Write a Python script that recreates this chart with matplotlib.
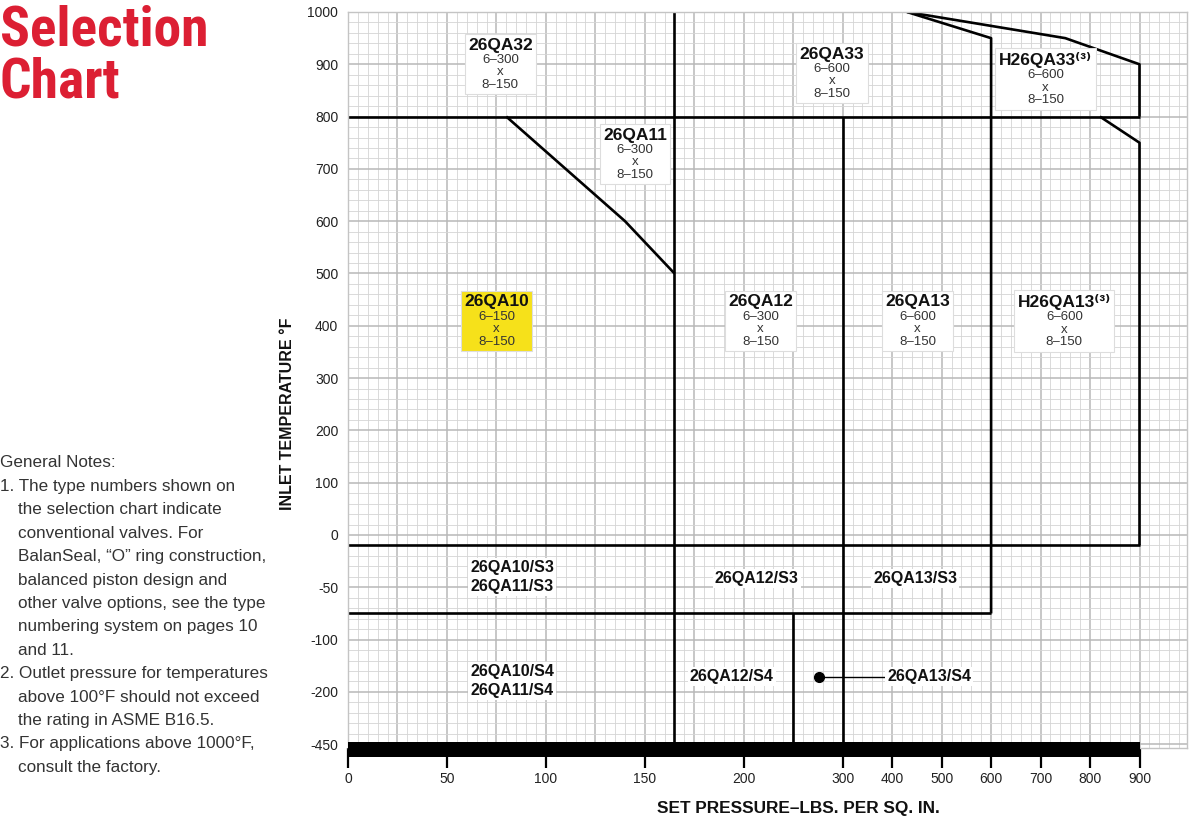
import numpy as np
import matplotlib
matplotlib.use("Agg")
from matplotlib import pyplot as plt
from matplotlib import font_manager as ftm
from matplotlib.offsetbox import TextArea, VPacker, AnnotationBbox
from matplotlib.patches import Rectangle

# ---------------- data ----------------
# axis ticks (piecewise scales)
xticks = [0, 50, 100, 150, 200, 300, 400, 500, 600, 700, 800, 900]
yticks = [1000, 900, 800, 700, 600, 500, 400, 300, 200, 100, 0, -50, -100, -200, -450]

# piecewise scale knots: real value -> position
x_knots = [0, 200, 300, 900]
x_pos = [0, 200, 250, 400]
y_knots = [-450, -200, -100, -50, 0, 1000]
y_pos = [0, 1, 2, 3, 4, 14]

# boundary lines of the selection chart (set pressure, inlet temperature)
boundaries = [
    ([0, 900], [800, 800]),
    ([0, 900], [-10, -10]),
    ([0, 600], [-75, -75]),
    ([165, 165], [1000, -450]),
    ([300, 300], [800, -450]),
    ([250, 250], [-75, -450]),
    ([600, 600, 430], [-75, 950, 1000]),
    ([430, 750, 900, 900], [1000, 950, 900, 800]),
    ([820, 900, 900], [800, 750, -10]),
    ([80, 140, 165], [800, 600, 500]),
]

# model boxes: name, sizes, x, y
box_names = ["26QA32", "26QA11", "26QA33", "H26QA33\u207d\u00b3\u207e",
             "26QA10", "26QA12", "26QA13", "H26QA13\u207d\u00b3\u207e"]
box_sizes = ["6\u2013300\nx\n8\u2013150", "6\u2013300\nx\n8\u2013150",
             "6\u2013600\nx\n8\u2013150", "6\u2013600\nx\n8\u2013150",
             "6\u2013150\nx\n8\u2013150", "6\u2013300\nx\n8\u2013150",
             "6\u2013600\nx\n8\u2013150", "6\u2013600\nx\n8\u2013150"]
box_x = [77, 145, 289, 710, 75, 217, 451, 748]
box_y = [900, 728, 883, 872, 409, 409, 409, 409]
box_colors = ["white", "white", "white", "white", "#f6e11a", "white", "white", "white"]

# low temperature labels
low_names = ["26QA10/S3\n26QA11/S3", "26QA12/S3", "26QA13/S3",
             "26QA10/S4\n26QA11/S4", "26QA12/S4"]
low_x = [83, 213, 447, 83, 194]
low_y = [-40, -42, -42, -179, -171]

# 26QA13/S4 pointer
s4_point = (276, -171)
s4_label_x = 390

notes = [
    (0, "General Notes:"),
    (0, "1. The type numbers shown on"),
    (1, "the selection chart indicate"),
    (1, "conventional valves. For"),
    (1, "BalanSeal, \u201cO\u201d ring construction,"),
    (1, "balanced piston design and"),
    (1, "other valve options, see the type"),
    (1, "numbering system on pages 10"),
    (1, "and 11."),
    (0, "2. Outlet pressure for temperatures"),
    (1, "above 100\u00b0F should not exceed"),
    (1, "the rating in ASME B16.5."),
    (0, "3. For applications above 1000\u00b0F,"),
    (1, "consult the factory."),
]


# ---------------- scales ----------------
def fwd_x(v):
    v = np.asarray(v, dtype=float)
    out = np.interp(v, x_knots, x_pos)
    out = np.where(v > 900, 400 + (v - 900) / 4.0, out)
    return np.where(v < 0, v, out)


def inv_x(t):
    t = np.asarray(t, dtype=float)
    out = np.interp(t, x_pos, x_knots)
    out = np.where(t > 400, 900 + (t - 400) * 4.0, out)
    return np.where(t < 0, t, out)


def fwd_y(v):
    v = np.asarray(v, dtype=float)
    out = np.interp(v, y_knots, y_pos)
    out = np.where(v > 1000, 14 + (v - 1000) / 100.0, out)
    return np.where(v < -450, (v + 450) / 250.0, out)


def inv_y(t):
    t = np.asarray(t, dtype=float)
    out = np.interp(t, y_pos, y_knots)
    out = np.where(t > 14, 1000 + (t - 14) * 100.0, out)
    return np.where(t < 0, -450 + t * 250.0, out)


fam = ["Liberation Sans", "DejaVu Sans"]
plt.rcParams["font.family"] = fam

# pick a condensed face for the big title if one is installed
installed = {f.name for f in ftm.fontManager.ttflist}
title_size = 40
title_fam = None
for cand in ["Liberation Sans Narrow", "Roboto Condensed", "DejaVu Sans Condensed"]:
    if cand in installed:
        title_fam = cand
        break
if title_fam is None or title_fam == "DejaVu Sans Condensed":
    title_fam = "Lato" if "Lato" in installed else "Liberation Sans"
    title_size = 36

fig = plt.figure(figsize=(12, 8.25), dpi=100)
ax = fig.add_axes([348 / 1200, 1 - 748 / 825, 839 / 1200, 736 / 825])
ax.set_xscale("function", functions=(fwd_x, inv_x))
ax.set_yscale("function", functions=(fwd_y, inv_y))
ax.set_xlim(0, float(inv_x(424)))
ax.set_ylim(float(inv_y(-0.073)), 1000)

# graph paper grid
for t in np.arange(0, 424.1, 5):
    major = abs(t / 25 - round(t / 25)) < 1e-6
    ax.axvline(float(inv_x(t)), color="#b8b8b8" if major else "#d4d4d4",
               lw=1.1 if major else 0.6, zorder=0)
for t in np.arange(0, 14.01, 0.2):
    major = abs(t - round(t)) < 1e-6
    ax.axhline(float(inv_y(t)), color="#b8b8b8" if major else "#d4d4d4",
               lw=1.1 if major else 0.6, zorder=0)

for xs, ys in boundaries:
    ax.plot(xs, ys, color="black", lw=1.9, solid_capstyle="butt", zorder=2)

# heavy bar at the bottom
ax.add_patch(Rectangle((0, float(inv_y(0.042))), 900,
                       float(inv_y(-0.245)) - float(inv_y(0.042)),
                       facecolor="black", edgecolor="none", clip_on=False, zorder=3))

# model boxes
for name, size, bx, by, fc in zip(box_names, box_sizes, box_x, box_y, box_colors):
    title = TextArea(name, textprops=dict(fontsize=12.5, fontweight="bold",
                                          color="#111111", family=fam))
    sub = TextArea(size, textprops=dict(fontsize=9.5, color="#333333", family=fam,
                                        multialignment="center", linespacing=1.05))
    pack = VPacker(children=[title, sub], align="center", pad=0, sep=1)
    ab = AnnotationBbox(pack, (bx, by), xycoords="data", frameon=True, pad=0.25,
                        box_alignment=(0.5, 0.5), zorder=4,
                        bboxprops=dict(facecolor=fc, edgecolor="#dddddd", lw=0.8))
    ax.add_artist(ab)

for name, lx, ly in zip(low_names, low_x, low_y):
    ax.text(lx, ly, name, ha="center", va="center", fontsize=11.5, fontweight="bold",
            color="#111111", linespacing=1.3, zorder=4,
            bbox=dict(facecolor="white", edgecolor="none", pad=1.5))

ax.plot([s4_point[0], s4_label_x - 3], [s4_point[1], s4_point[1]], color="black", lw=1.0, zorder=4)
ax.plot([s4_point[0]], [s4_point[1]], "o", color="black", ms=7, zorder=5)
ax.text(s4_label_x, s4_point[1], "26QA13/S4", ha="left", va="center", fontsize=11.5,
        fontweight="bold", color="#111111", zorder=4,
        bbox=dict(facecolor="white", edgecolor="none", pad=1.5))

# axes styling
ax.set_xticks(xticks)
ax.set_xticklabels([str(v) for v in xticks])
ax.set_yticks(yticks)
ax.set_yticklabels([str(v) for v in yticks])
ax.minorticks_off()
ax.tick_params(axis="x", direction="out", length=14.5, width=1.6, color="black",
               labelsize=10, labelcolor="#222222", pad=3)
ax.tick_params(axis="y", length=0, labelsize=10, labelcolor="#222222", pad=7)
for sp in ax.spines.values():
    sp.set_color("#c4c4c4")
    sp.set_linewidth(1.0)

fig.text(288 / 1200, 1 - 414 / 825, "INLET TEMPERATURE \u00b0F", rotation=90,
         ha="center", va="center", fontsize=11.5, fontweight="bold", color="#111111")
fig.text(798 / 1200, 1 - 808 / 825, "SET PRESSURE\u2013LBS. PER SQ. IN.",
         ha="center", va="center", fontsize=12.4, fontweight="bold", color="#111111")

# title and notes on the left
fig.text(0.0, 1 - 46 / 825, "Selection", ha="left", va="baseline", fontsize=title_size,
         fontweight="bold", color="#dc1f33", family=[title_fam, "DejaVu Sans"])
fig.text(0.0, 1 - 97 / 825, "Chart", ha="left", va="baseline", fontsize=title_size,
         fontweight="bold", color="#dc1f33", family=[title_fam, "DejaVu Sans"])
for i, (indent, line) in enumerate(notes):
    fig.text(18 / 1200 if indent else 0.0, 1 - (463 + 23.4 * i) / 825, line,
             ha="left", va="center", fontsize=12.3, color="#333333", family=fam)

fig.savefig("out.png", dpi=100)
